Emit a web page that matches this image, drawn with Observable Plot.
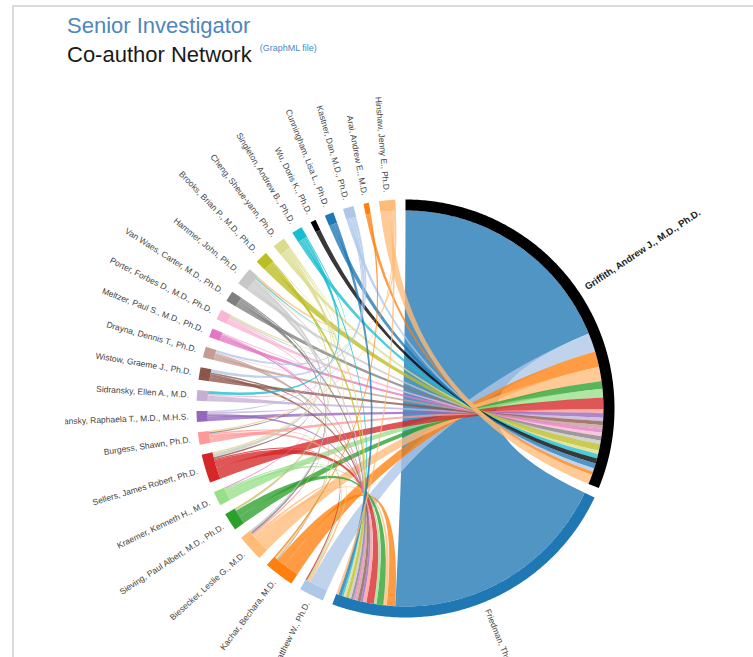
<!DOCTYPE html>
<html>
<head>
<meta charset="utf-8">
<script src="https://cdn.jsdelivr.net/npm/d3@7"></script>
<script src="https://cdn.jsdelivr.net/npm/@observablehq/plot@0.6"></script>
<style>
  html, body { margin: 0; padding: 0; background: #fff; width: 753px; height: 657px; overflow: hidden; }
  #frame { position: absolute; left: 12px; top: 5px; width: 760px; height: 700px;
           border-top: 2px solid #dadada; border-left: 2px solid #dadada; }
  #title { position: absolute; left: 67px; top: 15px; font-family: "Liberation Sans", Arial, sans-serif;
           font-size: 22px; line-height: 22px; }
  #title .t1 { color: #4f86bf; }
  #title .t2 { color: #1a1a1a; }
  #title .link { color: #4f86bf; font-size: 9px; vertical-align: 11px; margin-left: 8px; }
  #chart { position: absolute; left: 65px; top: 75px; width: 688px; height: 582px; overflow: hidden; }
</style>
</head>
<body>
<div id="frame"></div>
<div id="title">
  <div class="t1">Senior Investigator</div>
  <div class="t2">Co-author Network<span class="link">(GraphML file)</span></div>
</div>
<div id="chart"></div>
<script>
// ---- data ----
const names = [
  "Griffith, Andrew J., M.D., Ph.D.",
  "Friedman, Thomas B., Ph.D.",
  "Kelley, Matthew W., Ph.D.",
  "Kachar, Bechara, M.D.",
  "Biesecker, Leslie G., M.D.",
  "Sieving, Paul Albert, M.D., Ph.D.",
  "Kraemer, Kenneth H., M.D.",
  "Sellers, James Robert, Ph.D.",
  "Burgess, Shawn, Ph.D.",
  "Goldbach-Mansky, Raphaela T., M.D., M.H.S.",
  "Sidransky, Ellen A., M.D.",
  "Wistow, Graeme J., Ph.D.",
  "Drayna, Dennis T., Ph.D.",
  "Meltzer, Paul S., M.D., Ph.D.",
  "Porter, Forbes D., M.D., Ph.D.",
  "Van Waes, Carter, M.D., Ph.D.",
  "Hammer, John, Ph.D.",
  "Brooks, Brian P., M.D., Ph.D.",
  "Cheng, Sheue-yann, Ph.D.",
  "Singleton, Andrew B., Ph.D.",
  "Wu, Doris K., Ph.D.",
  "Cunningham, Lisa L., Ph.D.",
  "Kastner, Dan, M.D., Ph.D.",
  "Arai, Andrew E., M.D.",
  "Hinshaw, Jenny E., Ph.D."
];
// co-authorship weight of Griffith with names[1..24]
const griffithWeights = [68, 5.5, 4.6, 4.2, 2.3, 2.5, 3.4, 1.2, 1.3, 1.0, 1.2, 1.0,
                         1.2, 1.0, 1.3, 1.0, 2.0, 1.0, 1.3, 1.5, 1.5, 1.0, 1.0, 2.8];
// co-authorship weight of Friedman with names[2..24]
const friedmanWeights = [0, 2.5, 1.0, 2.0, 0.8, 2.2, 1.0, 0.7, 0, 0.9, 0.7, 0.6,
                         0, 0.7, 0.7, 0.9, 0.7, 0.5, 0, 1.0, 0, 0, 0.7];
// other co-author pairs [indexA, indexB, weight]
const peerLinks = [
  [2, 4, 0.7], [2, 6, 0.4], [2, 7, 0.4],
  [3, 23, 0.5], [3, 18, 0.5], [3, 12, 0.4],
  [4, 15, 0.6], [4, 16, 0.5], [4, 8, 0.5],
  [5, 17, 0.4], [5, 16, 0.3],
  [6, 13, 0.3],
  [7, 16, 1.0], [7, 18, 0.5], [7, 11, 0.5],
  [8, 15, 0.4], [8, 24, 0.4],
  [9, 10, 0.6], [9, 22, 0.4],
  [10, 19, 0.9], [10, 14, 0.5],
  [11, 22, 0.9],
  [12, 22, 0.7], [12, 14, 0.2],
  [13, 14, 0.4],
  [14, 18, 0.4], [14, 16, 0.4],
  [16, 24, 0.6], [16, 19, 0.3], [16, 18, 0.2],
  [17, 18, 0.2]
];

// ---- styling ----
const palette = ["#000000", "#1f77b4", "#aec7e8", "#ff7f0e", "#ffbb78", "#2ca02c", "#98df8a",
  "#d62728", "#ff9896", "#9467bd", "#c5b0d5", "#8c564b", "#c49c94", "#e377c2", "#f7b6d2",
  "#7f7f7f", "#c7c7c7", "#bcbd22", "#dbdb8d", "#17becf", "#000000", "#1f77b4", "#aec7e8",
  "#ff7f0e", "#ffbb78"];
const padDeg = 2.81;
const rInner = 198, rOuter = 209, rLabel = 217;

// ---- build matrix ----
const n = names.length;
const matrix = names.map(() => new Array(n).fill(0));
griffithWeights.forEach((v, k) => { matrix[0][k + 1] = v; matrix[k + 1][0] = v; });
friedmanWeights.forEach((v, k) => { matrix[1][k + 2] = v; matrix[k + 2][1] = v; });
peerLinks.forEach(([a, b, v]) => { matrix[a][b] = v; matrix[b][a] = v; });

const chords = d3.chord().padAngle(padDeg * Math.PI / 180)(matrix);

const pt = (r, a) => [r * Math.sin(a), -r * Math.cos(a)];
function arcPts(r, a0, a1) {
  const m = Math.max(2, Math.ceil(Math.abs(a1 - a0) / 0.01));
  return d3.range(m + 1).map(i => pt(r, a0 + (a1 - a0) * i / m));
}
function quadPts(p0, p2) {
  return d3.range(1, 24).map(i => {
    const t = i / 24, s = (1 - t) * (1 - t), u = t * t;
    return [s * p0[0] + u * p2[0], s * p0[1] + u * p2[1]];
  });
}

const ribbonRows = [];
chords.forEach((c, id) => {
  const s = c.source, t = c.target;
  const A = arcPts(rInner, s.startAngle, s.endAngle);
  const B = arcPts(rInner, t.startAngle, t.endAngle);
  const poly = [...A, ...quadPts(A[A.length - 1], B[0]), ...B, ...quadPts(B[B.length - 1], A[0])];
  const key = names[Math.max(s.index, t.index)];
  poly.forEach(([x, y]) => ribbonRows.push({id, key, x, y}));
});

const arcRows = [];
chords.groups.forEach(g => {
  const outer = arcPts(rOuter, g.startAngle, g.endAngle);
  const inner = arcPts(rInner, g.endAngle, g.startAngle);
  [...outer, ...inner].forEach(([x, y]) => arcRows.push({id: g.index, key: names[g.index], x, y}));
});

const labelRows = chords.groups.map(g => {
  const a = (g.startAngle + g.endAngle) / 2;
  const [x, y] = pt(rLabel, a);
  const deg = a * 180 / Math.PI;
  return {name: names[g.index], x, y, right: a < Math.PI, rot: a < Math.PI ? deg - 90 : deg + 90, idx: g.index};
});

const W = 688, H = 582, cx = 340, cy = 333;
const font = "'Liberation Sans', Arial, Helvetica, sans-serif";

const chart = Plot.plot({
  width: W, height: H, margin: 0,
  style: {fontFamily: font, background: "transparent"},
  x: {domain: [-cx, W - cx], range: [0, W], axis: null},
  y: {domain: [-cy, H - cy], range: [0, H], axis: null},
  color: {domain: names, range: palette},
  marks: [
    Plot.line(ribbonRows, {x: "x", y: "y", z: "id", fill: "key", fillOpacity: 0.78, stroke: "none", curve: "linear"}),
    Plot.line(arcRows, {x: "x", y: "y", z: "id", fill: "key", stroke: "none", curve: "linear"}),
    Plot.text(labelRows.filter(d => d.right && d.idx !== 0), {x: "x", y: "y", text: "name", rotate: "rot",
      textAnchor: "start", fontSize: 8.5, fill: "#444"}),
    Plot.text(labelRows.filter(d => d.idx === 0), {x: "x", y: "y", text: "name", rotate: "rot",
      textAnchor: "start", fontSize: 9.5, fontWeight: "bold", fill: "#222"}),
    Plot.text(labelRows.filter(d => !d.right), {x: "x", y: "y", text: "name", rotate: "rot",
      textAnchor: "end", fontSize: 8.5, fill: "#444"})
  ]
});
document.getElementById("chart").appendChild(chart);
</script>
</body>
</html>
